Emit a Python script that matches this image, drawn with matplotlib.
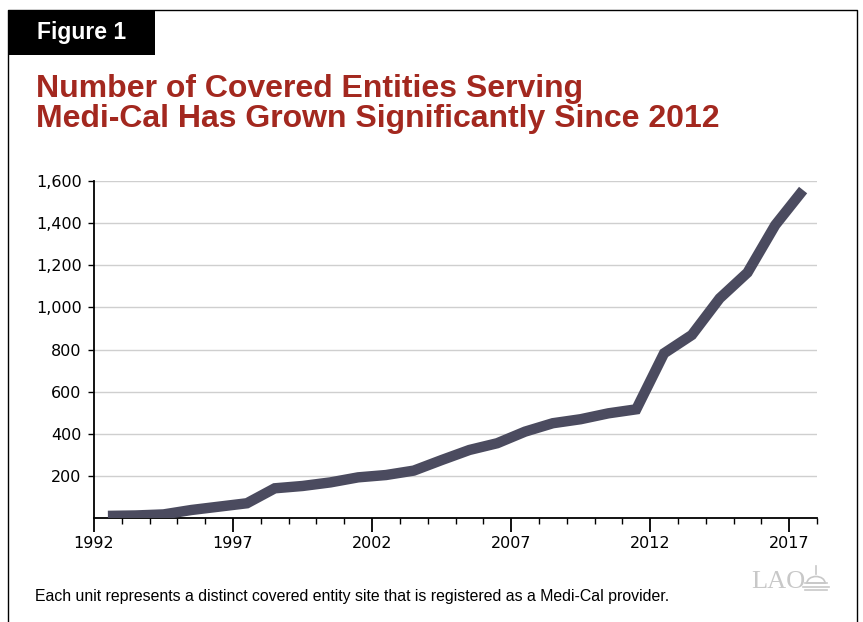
import matplotlib
matplotlib.use("Agg")
import matplotlib.pyplot as plt
from matplotlib.patches import Rectangle, Wedge
from matplotlib.lines import Line2D
from matplotlib.ticker import FixedLocator

plt.rcParams['font.family'] = ['Liberation Sans', 'DejaVu Sans']

years = list(range(1992, 2018))
entities = [10, 12, 17, 38, 54, 70, 141, 152, 169, 193, 204, 225,
            275, 323, 355, 410, 450, 469, 497, 516, 782, 869, 1043, 1165, 1391, 1557]
y_ticks = [200, 400, 600, 800, 1000, 1200, 1400, 1600]
y_labels = ["200", "400", "600", "800", "1,000", "1,200", "1,400", "1,600"]
x_ticks = [1992, 1997, 2002, 2007, 2012, 2017]
x_labels = ["1992", "1997", "2002", "2007", "2012", "2017"]

title_l1 = "Number of Covered Entities Serving"
title_l2 = "Medi-Cal Has Grown Significantly Since 2012"
footnote = "Each unit represents a distinct covered entity site that is registered as a Medi-Cal provider."

W, H = 863, 622
fig = plt.figure(figsize=(W / 100, H / 100), dpi=100)
fig.patch.set_facecolor("white")

def fx(px):
    return px / W

def fy(py):
    return 1 - py / H

# outer border (left, top, right)
fig.add_artist(Line2D([fx(8), fx(8), fx(857), fx(857)], [fy(622), fy(10), fy(10), fy(622)],
                      color="black", lw=1.0, transform=fig.transFigure))
# Figure label box
fig.add_artist(Rectangle((fx(8), fy(55)), fx(155) - fx(8), fy(10) - fy(55),
                         facecolor="black", edgecolor="none", transform=fig.transFigure))
fig.text(fx(37), fy(33), "Figure 1", color="white", fontsize=16.5, fontweight="bold",
         va="center", ha="left")
fig.text(fx(36), fy(96.5), title_l1, color="#a3281f",
         fontsize=23, fontweight="bold", va="baseline", ha="left")
fig.text(fx(36), fy(127.5), title_l2, color="#a3281f",
         fontsize=23, fontweight="bold", va="baseline", ha="left")

ax = fig.add_axes([fx(94), fy(518), fx(817) - fx(94), fy(181) - fy(518)])
x = [yr + 0.5 for yr in years]
ax.plot(x, entities, color="#4b4b5f", lw=7.5, solid_capstyle="butt", solid_joinstyle="miter", zorder=3)

ax.set_xlim(1992, 2018)
ax.set_ylim(0, 1600)
ax.yaxis.set_major_locator(FixedLocator(y_ticks))
ax.set_yticklabels(y_labels)
ax.xaxis.set_major_locator(FixedLocator(x_ticks))
ax.set_xticklabels(x_labels)
ax.xaxis.set_minor_locator(FixedLocator([yr for yr in range(1992, 2019) if yr not in x_ticks]))
ax.grid(axis="y", color="#cfcfcf", lw=1.0, zorder=0)
ax.set_axisbelow(True)
for s in ["top", "right"]:
    ax.spines[s].set_visible(False)
for s in ["left", "bottom"]:
    ax.spines[s].set_linewidth(1.3)
ax.tick_params(axis="y", length=4, width=1, labelsize=11.5, pad=5, direction="out")
ax.tick_params(axis="x", which="major", length=10, width=1.3, labelsize=11.5, pad=3)
ax.tick_params(axis="x", which="minor", length=4, width=1)
for lbl in ax.get_xticklabels() + ax.get_yticklabels():
    lbl.set_family(["DejaVu Sans"])

fig.text(fx(35), fy(597), footnote, fontsize=11.4, va="center", ha="left", color="black")

# LAO logo
logo_c = "#c8c8c8"
fig.text(fx(751), fy(588), "LAO", fontsize=19, family=["Liberation Serif", "DejaVu Serif"],
         color=logo_c, va="baseline", ha="left")
fig.add_artist(Wedge((fx(816), fy(583)), fx(9), 0, 180, facecolor="none", edgecolor=logo_c,
                     lw=1.2, transform=fig.transFigure))
for yy, x0, x1 in [(583, 805, 827), (587, 803, 829), (590, 805, 827)]:
    fig.add_artist(Line2D([fx(x0), fx(x1)], [fy(yy), fy(yy)], color=logo_c, lw=1.2,
                          transform=fig.transFigure))
fig.add_artist(Line2D([fx(816), fx(816)], [fy(566), fy(574)], color=logo_c, lw=1.2,
                      transform=fig.transFigure))

fig.savefig("out.png", dpi=100)
